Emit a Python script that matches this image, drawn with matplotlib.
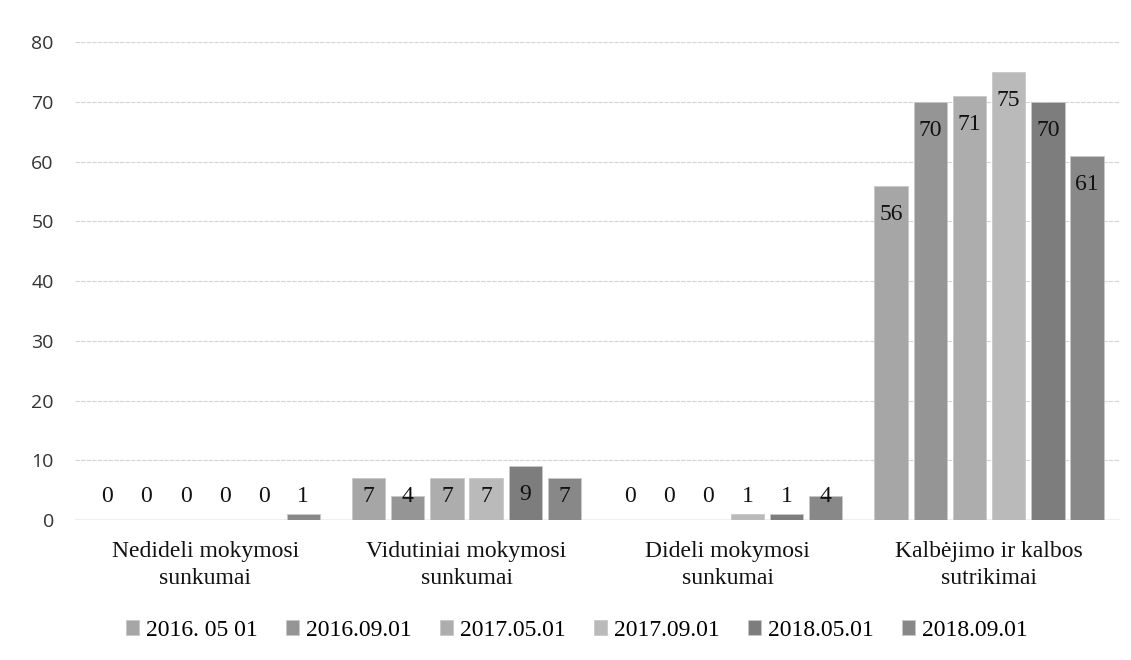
import numpy as np
import matplotlib
matplotlib.use("Agg")
import matplotlib.pyplot as plt

categories = ["Nedideli mokymosi\nsunkumai", "Vidutiniai mokymosi\nsunkumai",
              "Dideli mokymosi\nsunkumai", "Kalbėjimo ir kalbos\nsutrikimai"]
series = ["2016. 05 01", "2016.09.01", "2017.05.01", "2017.09.01", "2018.05.01", "2018.09.01"]
v_2016_05 = [0, 7, 0, 56]
v_2016_09 = [0, 4, 0, 70]
v_2017_05 = [0, 7, 0, 71]
v_2017_09 = [0, 7, 1, 75]
v_2018_05 = [0, 9, 1, 70]
v_2018_09 = [1, 7, 4, 61]
values = [v_2016_05, v_2016_09, v_2017_05, v_2017_09, v_2018_05, v_2018_09]

colors = ["#a6a6a6", "#959595", "#adadad", "#bababa", "#7d7d7d", "#888888"]
serif = ["Liberation Serif", "DejaVu Serif"]

fig = plt.figure(figsize=(11.31, 6.6), dpi=100)
ax = fig.add_axes([0.066, 0.212, 0.924, 0.724])

x = np.arange(len(categories))
slot = 0.15
width = 0.128
for i, (name, vals) in enumerate(zip(series, values)):
    pos = x + (i - 2.5) * slot
    ax.bar(pos, vals, width, color=colors[i], edgecolor="#c8c8c8", linewidth=0.6,
           label=name, zorder=3)
    for px, v in zip(pos, vals):
        ly = max(v - 4.8, 3.9)
        ax.text(px, ly, str(v), ha="center", va="center", fontsize=17,
                family=serif, color="#111111", zorder=4)

ax.set_ylim(0, 80)
ax.set_xlim(-0.5, 3.5)
ax.set_yticks(range(0, 81, 10))
ax.grid(axis="y", color="#d4d4d4", linewidth=0.8, linestyle=(0, (4, 1)), zorder=0)
ax.axhline(0, color="#bbbbbb", linewidth=1, zorder=2)
for s in ax.spines.values():
    s.set_visible(False)
ax.tick_params(axis="y", length=0, pad=15, labelsize=14, labelcolor="#333333")
ax.tick_params(axis="x", length=0, pad=15)
for lab in ax.get_yticklabels():
    lab.set_family(["Open Sans", "DejaVu Sans"])
ax.set_xticks(x)
ax.set_xticklabels(categories, family=serif, fontsize=17, color="#111111", linespacing=1.4)

fig.legend(loc="center", bbox_to_anchor=(0.51, 0.045), ncol=6, frameon=False,
           prop={"family": serif, "size": 17}, handlelength=0.55, handleheight=0.55,
           handletextpad=0.3, columnspacing=1.2)

fig.savefig("out.png", dpi=100)
